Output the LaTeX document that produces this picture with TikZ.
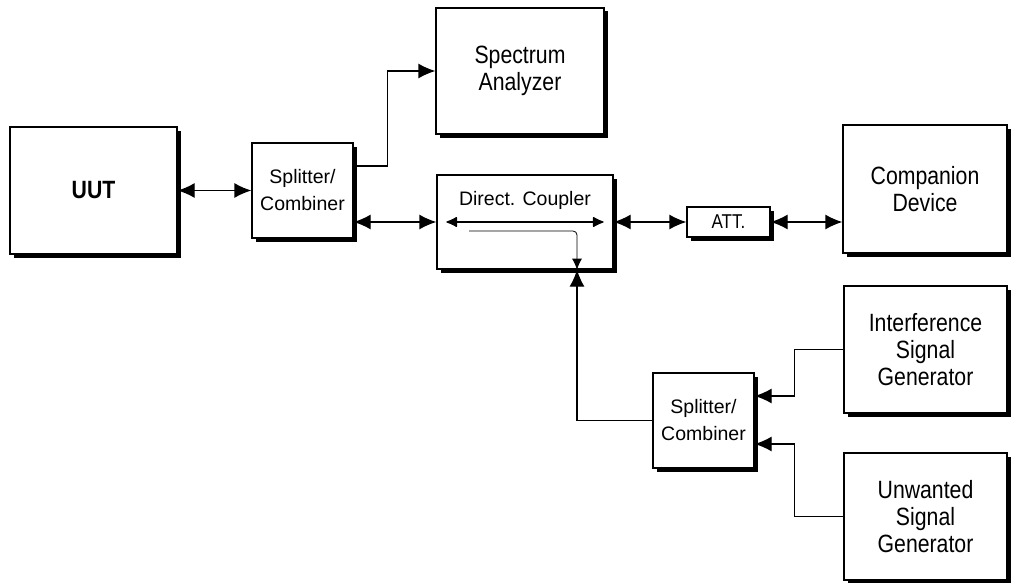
\documentclass[tikz,border=0pt]{standalone}
\usepackage{fontspec}
\setmainfont{Liberation Sans}
\newfontfamily\wideboxfont{Liberation Sans}[FakeStretch=0.85]
\usetikzlibrary{arrows.meta,shadows}

\tikzset{bighead/.tip={Latex[length=17pt,width=15pt]}}

\begin{document}
\begin{tikzpicture}[x=1pt,y=-1pt,line join=miter,
	blk/.style={draw,line width=1.3pt,fill=white,inner sep=0pt,align=center,
		drop shadow={shadow xshift=3.5pt,shadow yshift=-3.5pt,fill=black,opacity=1}},
	bigtxt/.style={font=\wideboxfont\fontsize{25}{27}\selectfont},
	smalltxt/.style={font=\fontsize{19.5}{27}\selectfont},
	wire/.style={line width=1.3pt,-bighead},
	dblwire/.style={line width=1.3pt,bighead-bighead},
	tapline/.style={line width=0.8pt,rounded corners=4pt,-{Latex[length=11pt,width=10pt]}},
	inner/.style={line width=1.1pt,{Latex[length=12pt,width=11pt,round]}-{Latex[length=12pt,width=11pt,round]}}]
	\useasboundingbox (0,0) rectangle (1011,583);
	% boxes
	\node[blk,bigtxt,minimum width=167pt,minimum height=127pt] (uut) at (93.5,190.5) {\textbf{UUT}};
	\node[blk,smalltxt,minimum width=101pt,minimum height=95pt] (sp1) at (302.5,190.5) {Splitter/\\Combiner};
	\node[blk,bigtxt,minimum width=168pt,minimum height=126pt] (sa) at (520,71) {Spectrum\\Analyzer};
	\node[blk,minimum width=176pt,minimum height=94pt] (dc) at (525,222) {};
	\node[smalltxt] (dcl) at (525,200) {Direct. Coupler};
	\node[blk,bigtxt,font=\wideboxfont\fontsize{20}{22}\selectfont,minimum width=83pt,minimum height=30pt] (att) at (728.5,222) {ATT.};
	\node[blk,bigtxt,minimum width=164pt,minimum height=128pt] (comp) at (925,189) {Companion\\Device};
	\node[blk,bigtxt,minimum width=163pt,minimum height=127pt] (ig) at (925.5,349.5) {Interference\\Signal\\Generator};
	\node[blk,bigtxt,minimum width=163pt,minimum height=127pt] (uw) at (925.5,516.5) {Unwanted\\Signal\\Generator};
	\node[blk,smalltxt,minimum width=101pt,minimum height=95pt] (sp2) at (703.5,420.5) {Splitter/\\Combiner};
	% connectors
	\draw[dblwire] (uut.east) -- (sp1.west);
	\draw[wire] ([yshift=24.5pt]sp1.east) -- ++(34,0) |- (sa.west);
	\draw[dblwire] ([yshift=-31.5pt]sp1.east) -- (dc.west);
	\draw[inner] ([xshift=10pt]dc.west) -- ([xshift=-10pt]dc.east);
	\draw[tapline] ([xshift=-56pt,yshift=-9pt]dc.center) -| ([xshift=52pt]dc.south);
	\draw[dblwire] (dc.east) -- (att.west);
	\draw[dblwire] (att.east) -- (att.east -| comp.west);
	\draw[wire] (sp2.west) -| ([xshift=52pt]dc.south);
	\draw[wire] (ig.west) -- ++(-49,0) |- ([yshift=24.5pt]sp2.east);
	\draw[wire] (uw.west) -- ++(-49,0) |- ([yshift=-23.5pt]sp2.east);
\end{tikzpicture}
\end{document}
